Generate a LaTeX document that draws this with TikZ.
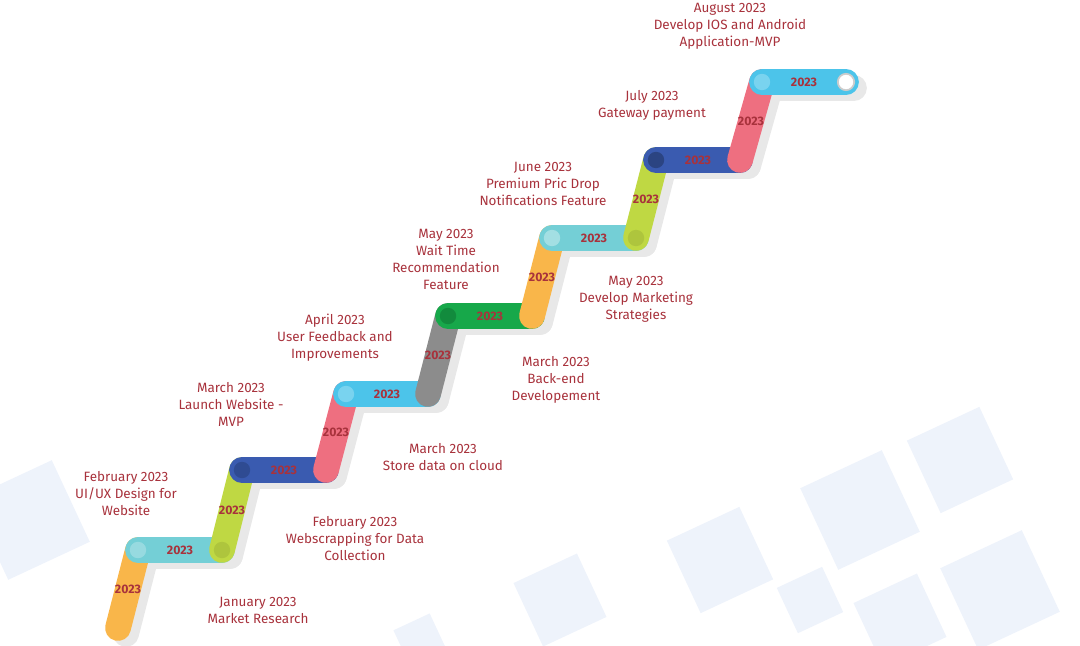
\documentclass[tikz,border=0pt]{standalone}
\usepackage{fontspec}
\setmainfont{Fira Sans}
\usepackage{xcolor}
\definecolor{txtred}{HTML}{A8323C}
\definecolor{cOrange}{HTML}{F9B64A}
\definecolor{cTeal}{HTML}{74CFD6}
\definecolor{cLime}{HTML}{BFD843}
\definecolor{cBlue}{HTML}{3A5BB0}
\definecolor{cPink}{HTML}{EE6F80}
\definecolor{cCyan}{HTML}{4CC4EA}
\definecolor{cGray}{HTML}{8C8C8C}
\definecolor{cGreen}{HTML}{17A84A}
\definecolor{bgblue}{HTML}{EEF3FB}

\begin{document}
\begin{tikzpicture}[x=0.03cm,y=-0.03cm,
  seg/.style={line width=22pt,line cap=round},
  shade/.style={line width=22pt,line cap=round,black!9},
  yr/.style={text=txtred,font=\bfseries\fontsize{10.5}{12}\selectfont},
  lbl/.style={text=txtred,align=center,font=\fontsize{11.5}{14.5}\selectfont},
  dot/.style={circle,minimum size=14pt,inner sep=0pt}]
\useasboundingbox (0,0) rectangle (1080,646);
% background squares
\foreach \x/\y/\s in {30/520/90,560/600/70,720/560/80,860/510/90,960/460/80,1000/590/90,900/620/70,420/640/40,810/600/50}
  \fill[bgblue,rotate around={25:(\x,\y)}] (\x-\s/2,\y-\s/2) rectangle (\x+\s/2,\y+\s/2);

% joints
\coordinate (p0) at (118,628);
\coordinate (p1) at (138,550);
\coordinate (p2) at (222,550);
\coordinate (p3) at (242,470);
\coordinate (p4) at (326,470);
\coordinate (p5) at (346,394);
\coordinate (p6) at (428,394);
\coordinate (p7) at (448,316);
\coordinate (p8) at (532,316);
\coordinate (p9) at (552,238);
\coordinate (p10) at (636,238);
\coordinate (p11) at (656,160);
\coordinate (p12) at (740,160);
\coordinate (p13) at (762,82);
\coordinate (p14) at (846,82);

% shadows
\foreach \a/\b in {0/1,1/2,2/3,3/4,4/5,5/6,6/7,7/8,8/9,9/10,10/11,11/12,12/13,13/14}
  \draw[shade] ([shift={(8,6)}]p\a) -- ([shift={(8,6)}]p\b);

% segments
\foreach \a/\b/\c in {0/1/cOrange,1/2/cTeal,2/3/cLime,3/4/cBlue,4/5/cPink,5/6/cCyan,6/7/cGray,7/8/cGreen,8/9/cOrange,9/10/cTeal,10/11/cLime,11/12/cBlue,12/13/cPink,13/14/cCyan}
  \draw[seg,\c] (p\a) -- (p\b) node[midway,yr]{2023};

% joint dots
\foreach \p/\c in {1/cTeal!70,2/cLime!90!black,3/cBlue!80!black,4/cPink,5/cCyan!70,6/cGray,7/cGreen!80!black,8/cOrange,9/cTeal!60,10/cLime!90!black,11/cBlue!70!black,12/cPink,13/cCyan!70}
  \node[dot,fill=\c,opacity=0.85] (d\p) at (p\p) {};
\node[dot,fill=white,draw=black!20,line width=1.5pt] (d14) at (p14) {};

% texts
\node[lbl] (t1) at (258,610) {January 2023\\Market Research};
\node[lbl] (t2) at (126,494) {February 2023\\UI/UX Design for\\Website};
\node[lbl] (t3) at (355,539) {February 2023\\Webscrapping for Data\\Collection};
\node[lbl] (t4) at (231,404) {March 2023\\Launch Website -\\MVP};
\node[lbl] (t5) at (443,457) {March 2023\\Store data on cloud};
\node[lbl] (t6) at (335,338) {April 2023\\User Feedback and\\Improvements};
\node[lbl] (t7) at (556,380) {March 2023\\Back-end\\Developement};
\node[lbl] (t8) at (446,259) {May 2023\\Wait Time\\Recommendation\\Feature};
\node[lbl] (t9) at (636,299) {May 2023\\Develop Marketing\\Strategies};
\node[lbl] (t10) at (543,184) {June 2023\\Premium Pric Drop\\Notifications Feature};
\node[lbl] (t11) at (652,105) {July 2023\\Gateway payment};
\node[lbl] (t12) at (730,26) {August 2023\\Develop IOS and Android\\Application-MVP};
\end{tikzpicture}
\end{document}
